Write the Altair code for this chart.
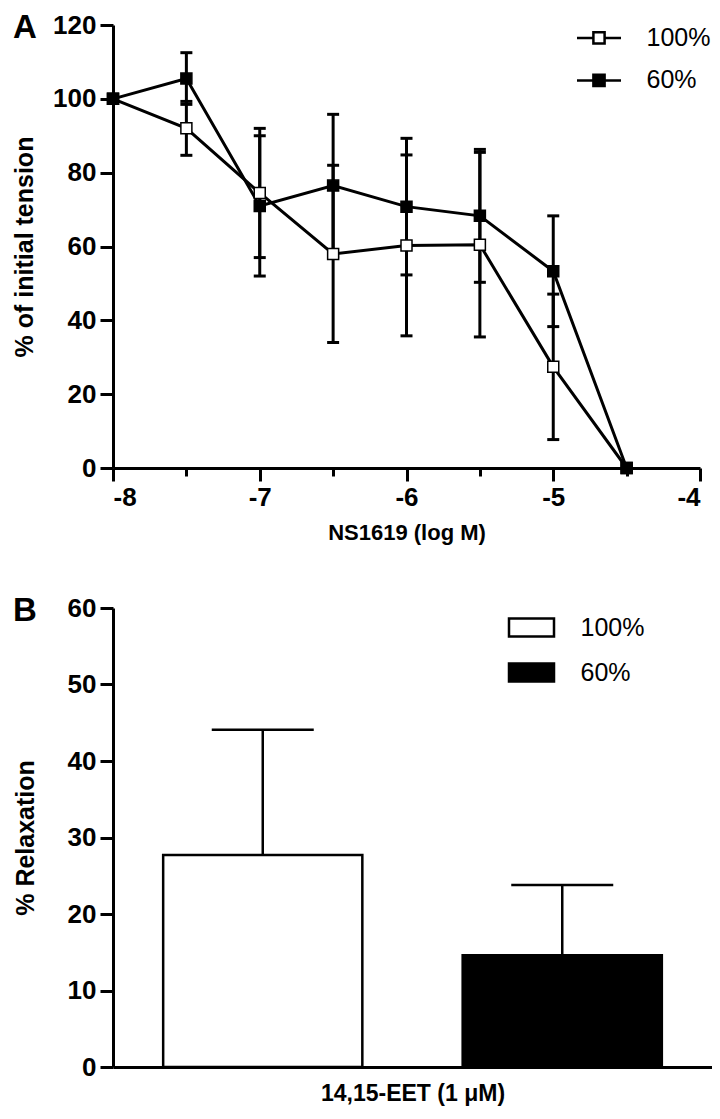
import altair as alt
import pandas as pd

# ---------------- data ----------------
log_conc = [-8, -7.5, -7, -6.5, -6, -5.5, -5, -4.5]
mean_100 = [100, 92, 74.5, 58, 60.3, 60.5, 27.4, 0]
sem_100 = [0, 7.3, 17.5, 24, 24.5, 25, 19.7, 0]
mean_60 = [100, 105.5, 71, 76.5, 70.8, 68.3, 53.3, 0]
sem_60 = [0, 7, 19, 19.3, 18.5, 18, 15, 0]
series = ["100%", "60%"]

bar_groups = ["100%", "60%"]
bar_means = [27.7, 14.6]
bar_sems = [16.4, 9.2]

x_ticks = [-8, -7, -6, -5, -4]
x_minor = [-7.5, -6.5, -5.5, -4.5]
y_ticks_a = [0, 20, 40, 60, 80, 100, 120]
y_ticks_b = [0, 10, 20, 30, 40, 50, 60]

FONT = "Liberation Sans"

rows = []
for s, m, e in [("100%", mean_100, sem_100), ("60%", mean_60, sem_60)]:
    for c, mm, ee in zip(log_conc, m, e):
        rows.append({"conc": c, "series": s, "mean": mm, "sem": ee,
                     "lo": mm - ee, "hi": mm + ee})
df_a = pd.DataFrame(rows)

df_b = pd.DataFrame({"group": bar_groups, "mean": bar_means,
                     "hi": [m + s for m, s in zip(bar_means, bar_sems)]})

axis_common = dict(domainColor="black", domainWidth=3, tickColor="black", tickWidth=3,
                   labelFont=FONT, labelFontSize=26, labelFontWeight="bold",
                   labelColor="black", titleFont=FONT, titleFontWeight="bold",
                   titleColor="black", grid=False)

xs = alt.Scale(domain=[-8, -4], nice=False, zero=False)
ys = alt.Scale(domain=[0, 120], nice=False)

# ---------------- panel A ----------------
base_a = alt.Chart(df_a)
err = base_a.transform_filter("datum.sem > 0")

x_minor_axis = alt.Axis(values=x_minor, labels=False, domain=False, tickSize=8,
                        tickWidth=3, tickColor="black", grid=False, title=None,
                        orient="bottom")
x_main_axis = alt.Axis(values=x_ticks, title="NS1619 (log M)", titleFontSize=22,
                       tickSize=13, labelPadding=3, titlePadding=12, orient="bottom",
                       labelExpr="'' + datum.value", **axis_common)
ya = alt.Axis(values=y_ticks_a, title="% of initial tension", titleFontSize=25,
              tickSize=13, labelPadding=4, titlePadding=15, **axis_common)

err_rule = err.mark_rule(color="black", strokeWidth=3).encode(
    x=alt.X("conc:Q", scale=xs, axis=x_minor_axis),
    y=alt.Y("lo:Q", scale=ys, axis=ya),
    y2="hi:Q",
    detail="series:N",
)
cap_lo = err.mark_tick(color="black", orient="horizontal", size=12, thickness=3,
                       opacity=1).encode(
    x=alt.X("conc:Q", scale=xs, axis=None),
    y=alt.Y("lo:Q", scale=ys, axis=ya),
)
cap_hi = err.mark_tick(color="black", orient="horizontal", size=12, thickness=3,
                       opacity=1).encode(
    x=alt.X("conc:Q", scale=xs, axis=None),
    y=alt.Y("hi:Q", scale=ys, axis=ya),
)
lines = base_a.mark_line(color="black", strokeWidth=3).encode(
    x=alt.X("conc:Q", scale=xs, axis=x_main_axis),
    y=alt.Y("mean:Q", scale=ys, axis=ya),
    detail="series:N",
)
points = base_a.mark_point(shape="square", size=121, filled=True, stroke="black",
                           strokeWidth=1.5, opacity=1).encode(
    x=alt.X("conc:Q", scale=xs, axis=None),
    y=alt.Y("mean:Q", scale=ys, axis=ya),
    fill=alt.Fill("series:N", scale=alt.Scale(domain=series, range=["white", "black"]),
                  legend=alt.Legend(orient="none", legendX=464.5, legendY=-8.6, title=None,
                                    padding=0, rowPadding=7.5, labelOffset=26,
                                    symbolType="M-1.1,0H-0.28M0.28,0H1.1M-0.28,-0.28H0.28V0.28H-0.28Z",
                                    symbolSize=1600, symbolStrokeColor="black",
                                    symbolStrokeWidth=2.5, labelFont=FONT,
                                    labelFontSize=25, labelColor="black")),
)
label_a = alt.Chart(pd.DataFrame({"panel": ["A"]})).mark_text(
    font=FONT, fontSize=33, fontWeight="bold", align="left", baseline="top",
    color="black").encode(text="panel:N", x=alt.value(-100), y=alt.value(-13))

panel_a = alt.layer(err_rule, cap_lo, cap_hi, lines, points, label_a).resolve_axis(
    x="independent").properties(width=587, height=443)

# ---------------- panel B ----------------
bxs = alt.Scale(domain=bar_groups, paddingInner=0.335, paddingOuter=0.1675)
bys = alt.Scale(domain=[0, 60], nice=False)
base_b = alt.Chart(df_b)

xb = alt.Axis(title="14,15-EET (1 μM)", labels=False, ticks=False,
              titleFontSize=23, titlePadding=15, **axis_common)
yb = alt.Axis(values=y_ticks_b, title="% Relaxation", titleFontSize=25,
              tickSize=13, labelPadding=4, titlePadding=29, **axis_common)

bar_err = base_b.mark_rule(color="black", strokeWidth=2.5).encode(
    x=alt.X("group:N", scale=bxs, axis=xb),
    y=alt.Y("mean:Q", scale=bys, axis=yb),
    y2="hi:Q",
)
bar_cap = base_b.mark_tick(color="black", orient="horizontal", size=102, thickness=2.5,
                           opacity=1).encode(
    x=alt.X("group:N", scale=bxs, axis=xb),
    y=alt.Y("hi:Q", scale=bys, axis=yb),
)
bars = base_b.mark_bar(stroke="black", strokeWidth=2.5, opacity=1).encode(
    x=alt.X("group:N", scale=bxs, axis=xb),
    y=alt.Y("mean:Q", scale=bys, axis=yb),
    fill=alt.Fill("group:N", scale=alt.Scale(domain=bar_groups, range=["white", "black"]),
                  legend=alt.Legend(orient="none", legendX=394.5, legendY=-4.5, title=None,
                                    padding=0, rowPadding=7, labelOffset=25,
                                    symbolType="M-1,-0.4H1V0.4H-1Z", symbolSize=2025,
                                    symbolStrokeColor="black", symbolStrokeWidth=2.5,
                                    labelFont=FONT, labelFontSize=25, labelColor="black")),
)
label_b = alt.Chart(pd.DataFrame({"panel": ["B"]})).mark_text(
    font=FONT, fontSize=33, fontWeight="bold", align="left", baseline="top",
    color="black").encode(text="panel:N", x=alt.value(-100), y=alt.value(-13))

panel_b = alt.layer(bar_err, bar_cap, bars, label_b).properties(width=599, height=459)

chart = alt.vconcat(panel_a, panel_b, spacing=52).resolve_scale(
    fill="independent", x="independent", y="independent"
).properties(
    padding={"left": 4, "top": 4, "right": 0, "bottom": 3}
).configure_view(stroke=None)

chart.save("out.html", embed_options={"renderer": "svg", "actions": False})
